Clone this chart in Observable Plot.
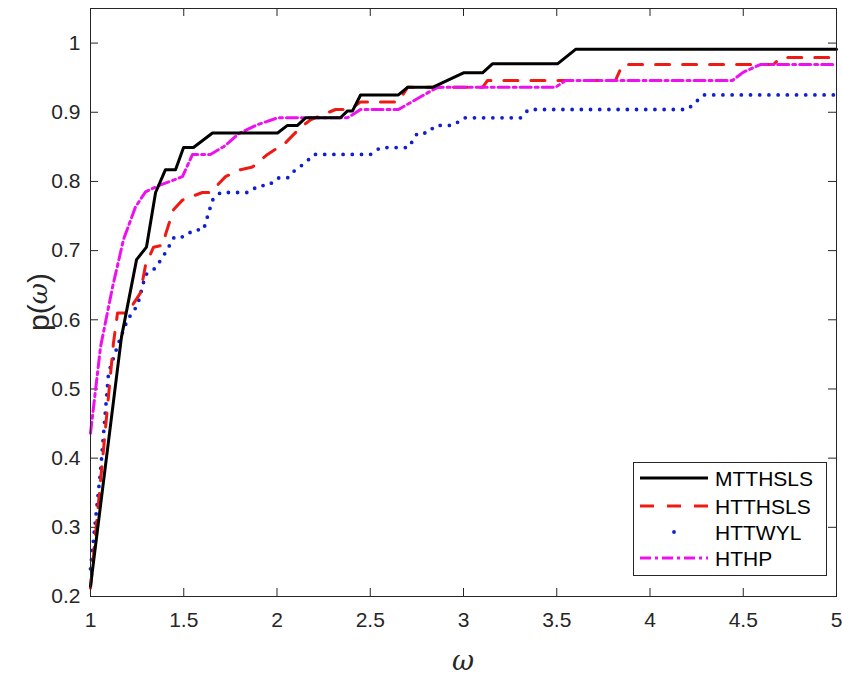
<!DOCTYPE html>
<html><head><meta charset="utf-8">
<script src="https://cdn.jsdelivr.net/npm/d3@7"></script>
<script src="https://cdn.jsdelivr.net/npm/@observablehq/plot@0.6"></script>
<style>
html,body{margin:0;padding:0;background:#fff;}
#wrap{position:relative;width:842px;height:674px;font-family:"Liberation Sans",Arial,sans-serif;}
#legend{position:absolute;left:633px;top:462px;}
</style></head><body><div id="wrap"></div>
<script>
const seriesNames = ["MTTHSLS","HTTHSLS","HTTWYL","HTHP"];
const seriesColors = ["#000000","#f01a14","#1020d0","#ee10ee"];

const mtthslsX = [1.000,1.166,1.247,1.300,1.349,1.402,1.456,1.499,1.552,1.654,2.003,2.056,2.110,2.153,2.340,2.378,2.405,2.448,2.651,2.700,2.834,3.000,3.102,3.155,3.504,3.601,5.000];
const mtthslsY = [0.215,0.575,0.687,0.705,0.784,0.817,0.817,0.849,0.849,0.870,0.870,0.881,0.881,0.892,0.892,0.902,0.902,0.925,0.925,0.936,0.936,0.957,0.957,0.970,0.970,0.991,0.991];

const htthslsX = [1.000,1.123,1.145,1.198,1.268,1.295,1.338,1.391,1.402,1.445,1.493,1.600,1.643,1.724,1.804,1.869,1.949,2.046,2.126,2.180,2.314,2.394,2.448,2.651,2.700,3.102,3.129,3.815,3.853,4.662,4.700,5.000];
const htthslsY = [0.212,0.566,0.610,0.610,0.639,0.679,0.705,0.708,0.723,0.759,0.773,0.784,0.784,0.807,0.817,0.821,0.839,0.856,0.878,0.889,0.904,0.904,0.915,0.915,0.936,0.936,0.946,0.946,0.969,0.969,0.979,0.979];

const httwylX = [1.000,1.054,1.097,1.150,1.198,1.252,1.295,1.349,1.402,1.450,1.504,1.552,1.606,1.654,1.697,1.847,1.901,1.954,2.003,2.056,2.099,2.153,2.196,2.501,2.555,2.705,2.753,2.807,2.850,2.946,3.000,3.306,3.349,4.201,4.287,5.000];
const httwylY = [0.240,0.382,0.524,0.566,0.600,0.621,0.665,0.675,0.697,0.720,0.720,0.730,0.730,0.773,0.784,0.784,0.794,0.794,0.805,0.805,0.817,0.827,0.839,0.839,0.849,0.849,0.870,0.870,0.881,0.881,0.892,0.892,0.904,0.904,0.925,0.925];

const hthpX = [1.000,1.054,1.118,1.177,1.241,1.295,1.375,1.445,1.493,1.547,1.643,1.724,1.794,1.895,2.003,2.378,2.448,2.651,2.716,2.807,2.861,3.493,3.547,4.442,4.501,4.592,5.000];
const hthpY = [0.436,0.561,0.647,0.716,0.763,0.785,0.795,0.802,0.807,0.839,0.839,0.852,0.869,0.882,0.892,0.892,0.904,0.904,0.914,0.928,0.936,0.936,0.946,0.946,0.958,0.969,0.969];

const xTicks = [1,1.5,2,2.5,3,3.5,4,4.5,5];
const yTicks = [0.2,0.3,0.4,0.5,0.6,0.7,0.8,0.9,1];

const toRows = (xs, ys, name) => xs.map((x, i) => ({x, y: ys[i], name}));
const rowsBy = {
  MTTHSLS: toRows(mtthslsX, mtthslsY, "MTTHSLS"),
  HTTHSLS: toRows(htthslsX, htthslsY, "HTTHSLS"),
  HTTWYL: toRows(httwylX, httwylY, "HTTWYL"),
  HTHP: toRows(hthpX, hthpY, "HTHP")
};
const styles = {
  MTTHSLS: {stroke: seriesColors[0], strokeWidth: 3},
  HTTHSLS: {stroke: seriesColors[1], strokeWidth: 3, strokeDasharray: "14 13"},
  HTTWYL: {stroke: seriesColors[2], strokeWidth: 3.8, strokeDasharray: "0 9.2", strokeLinecap: "round"},
  HTHP: {stroke: seriesColors[3], strokeWidth: 3, strokeDasharray: "11 4 3 4"}
};

const axisColor = "#262626";
const plot = Plot.plot({
  width: 842, height: 674,
  marginLeft: 90, marginRight: 6, marginTop: 8, marginBottom: 78,
  x: {domain: [1, 5]},
  y: {domain: [0.2, 1.05]},
  style: {fontFamily: "'Liberation Sans', Arial, sans-serif", color: axisColor, background: "#fff", overflow: "visible"},
  marks: [
    Plot.axisX(xTicks, {tickSize: 0, tickPadding: 16, tickFormat: d => String(d), fontSize: 21, label: null}),
    Plot.axisY(yTicks, {tickSize: 0, tickPadding: 10, tickFormat: d => String(d), fontSize: 21, label: null}),
    Plot.tickX(xTicks, {x: d => d, insetTop: 580, stroke: axisColor}),
    Plot.tickX(xTicks, {x: d => d, insetBottom: 580, stroke: axisColor}),
    Plot.tickY(yTicks, {y: d => d, insetRight: 738, stroke: axisColor}),
    Plot.tickY(yTicks, {y: d => d, insetLeft: 738, stroke: axisColor}),
    ...["HTTWYL","HTTHSLS","HTHP","MTTHSLS"].map(n => Plot.line(rowsBy[n], {x: "x", y: "y", ...styles[n]})),
    Plot.frame({stroke: axisColor, strokeWidth: 1})
  ]
});
document.getElementById("wrap").appendChild(plot);

// axis labels
const svg = d3.select(plot);
const yl = svg.append("text")
  .attr("transform", "translate(38,302) rotate(-90)")
  .attr("text-anchor", "middle").attr("dominant-baseline", "central")
  .attr("font-size", 30).attr("fill", axisColor)
  .attr("font-family", "'Liberation Sans', Arial, sans-serif");
yl.append("tspan").text("p(");
yl.append("tspan").attr("font-style", "italic").attr("font-family", "'DejaVu Serif', serif").attr("font-size", 26).text("ω");
yl.append("tspan").text(")");
svg.append("text")
  .attr("x", 463).attr("y", 660)
  .attr("text-anchor", "middle").attr("dominant-baseline", "central")
  .attr("font-size", 27).attr("font-style", "italic").attr("fill", axisColor)
  .attr("font-family", "'DejaVu Serif', serif")
  .text("ω");

// legend
const lw = 194, lh = 114;
const leg = d3.select("#wrap").append("svg").attr("id", "legend")
  .attr("width", lw).attr("height", lh);
leg.append("rect").attr("x", 0.5).attr("y", 0.5).attr("width", lw - 1).attr("height", lh - 1)
  .attr("fill", "#fff").attr("stroke", axisColor).attr("stroke-width", 1);
const rowY = [16, 44, 70, 96];
seriesNames.forEach((n, i) => {
  const s = styles[n];
  const y = rowY[i];
  if (n === "HTTWYL") {
    leg.append("circle").attr("cx", 41).attr("cy", y).attr("r", 1.9).attr("fill", s.stroke);
  } else {
    leg.append("line").attr("x1", 7).attr("x2", 75).attr("y1", y).attr("y2", y)
      .attr("stroke", s.stroke).attr("stroke-width", s.strokeWidth)
      .attr("stroke-dasharray", s.strokeDasharray || null);
  }
  leg.append("text").attr("x", 82).attr("y", y).attr("dominant-baseline", "central")
    .attr("font-size", 21).attr("fill", "#000")
    .attr("font-family", "'Liberation Sans', Arial, sans-serif").text(n);
});
</script></body></html>
